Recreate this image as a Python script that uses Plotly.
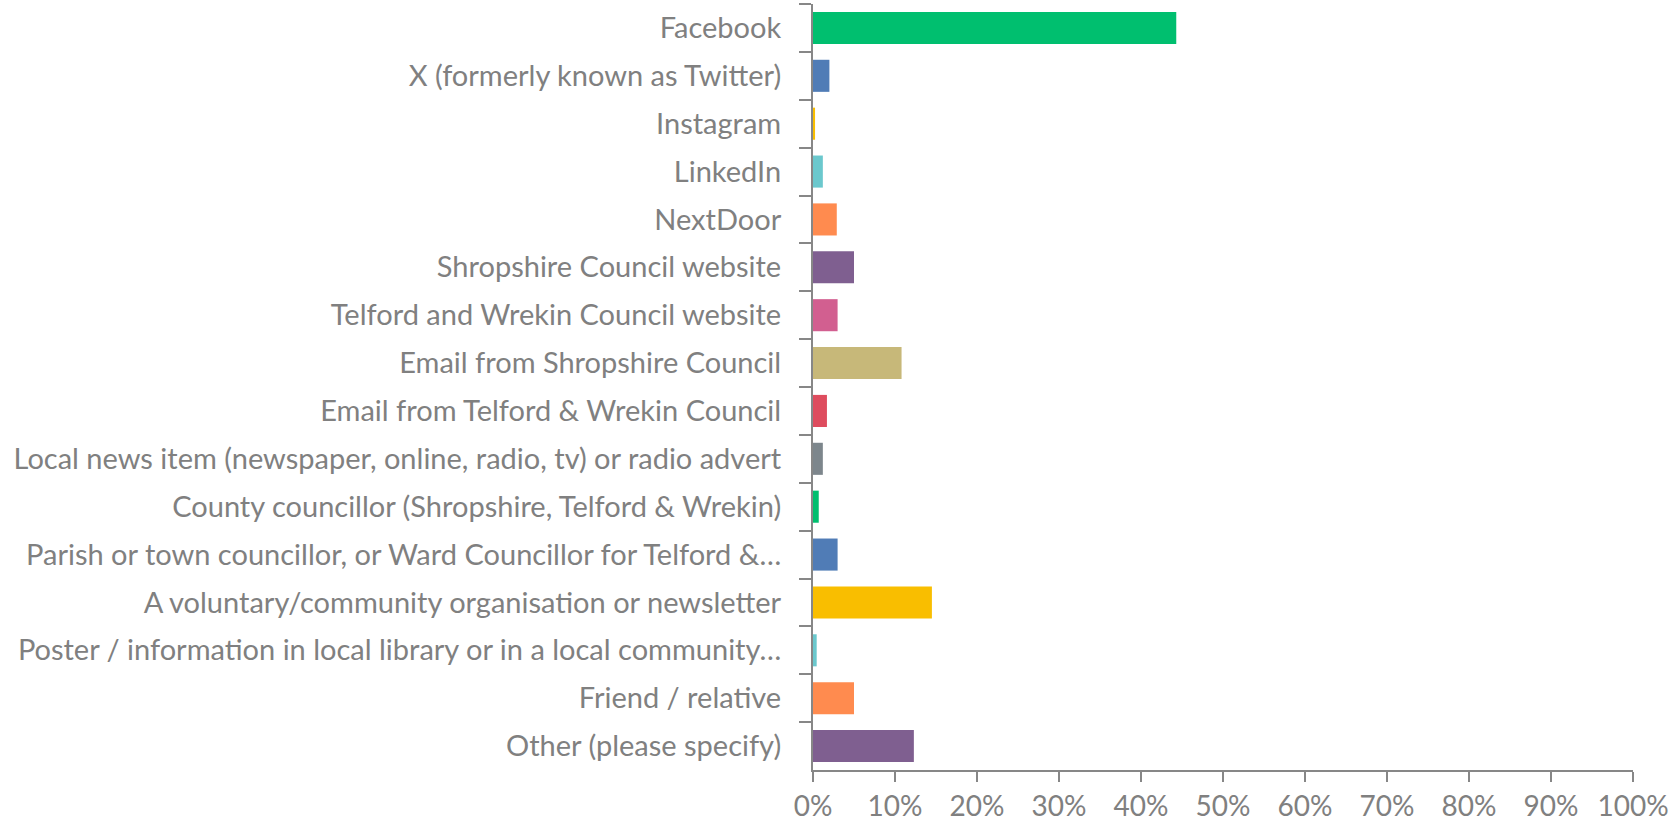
import plotly.graph_objects as go

categories = [
    "Facebook",
    "X (formerly known as Twitter)",
    "Instagram",
    "LinkedIn",
    "NextDoor",
    "Shropshire Council website",
    "Telford and Wrekin Council website",
    "Email from Shropshire Council",
    "Email from Telford & Wrekin Council",
    "Local news item (newspaper, online, radio, tv) or radio advert",
    "County councillor (Shropshire, Telford & Wrekin)",
    "Parish or town councillor, or Ward Councillor for Telford &\u2026",
    "A voluntary/community organisation or newsletter",
    "Poster / information in local library or in a local community\u2026",
    "Friend / relative",
    "Other (please specify)",
]
values = [0.443, 0.020, 0.0025, 0.012, 0.029, 0.050, 0.030, 0.108, 0.017,
          0.012, 0.007, 0.030, 0.145, 0.0045, 0.050, 0.123]
colors = ["#00BF6F", "#507CB6", "#F9BE00", "#6BC8CD", "#FF8B4F", "#7F5F90",
          "#D25F90", "#C7B879", "#DE4C5E", "#7D868C", "#00BF6F", "#507CB6",
          "#F9BE00", "#6BC8CD", "#FF8B4F", "#7F5F90"]
x_ticks = [0, 0.1, 0.2, 0.3, 0.4, 0.5, 0.6, 0.7, 0.8, 0.9, 1.0]

fig = go.Figure(go.Bar(
    x=values, y=categories, orientation="h",
    marker=dict(color=colors, line=dict(width=0)),
    width=0.67,
))

axis_color = "#878787"
font_color = "#808080"
fig.update_layout(
    width=1671, height=821,
    margin=dict(l=813, r=38, t=4, b=51, autoexpand=False),
    plot_bgcolor="white", paper_bgcolor="white",
    font=dict(family="Lato", size=29, color=font_color),
    showlegend=False,
)
fig.update_xaxes(
    range=[0, 1], tickvals=x_ticks, tickformat=".0%",
    showgrid=False, zeroline=False,
    showline=True, linecolor=axis_color, linewidth=2,
    ticks="outside", ticklen=10, tickwidth=2, tickcolor=axis_color,
    tickfont=dict(size=28, color=font_color),
)
fig.update_yaxes(
    autorange="reversed", categoryorder="array", categoryarray=categories,
    tickson="boundaries",
    showgrid=False, zeroline=False,
    showline=True, linecolor=axis_color, linewidth=2,
    ticks="outside", ticklen=12, tickwidth=2, tickcolor=axis_color,
    ticklabelstandoff=24,
    tickfont=dict(size=29, color=font_color),
)

fig.write_html(
    "out.html",
    config={"displayModeBar": False},
    post_script="document.body.style.margin='0px';document.body.style.overflow='hidden';",
)
